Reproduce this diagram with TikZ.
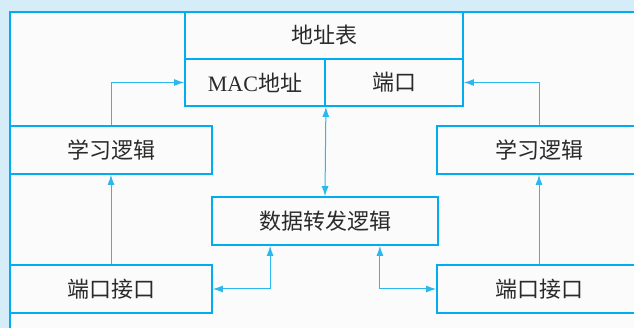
\documentclass[tikz,border=0pt]{standalone}
\usepackage{fontspec}
\setmainfont{Liberation Serif}
\newfontfamily\cjk{Noto Sans CJK SC}
\usetikzlibrary{arrows.meta}
\definecolor{bgblue}{HTML}{D5ECF9}
\definecolor{paper}{HTML}{FBFBFB}
\definecolor{edge}{HTML}{00AEEF}
\definecolor{wire}{HTML}{2BB8EE}
\definecolor{ink}{HTML}{2A2A2A}
\tikzset{
  box/.style={draw=edge, line width=1.8pt, fill=paper, inner sep=0pt, text=ink,
    font=\cjk\fontsize{22}{25}\selectfont},
  wirestyle/.style={draw=wire, line width=1pt, arrows={-Latex[length=10pt,width=7pt]}},
  twoway/.style={draw=wire, line width=1pt, arrows={Latex[length=10pt,width=7pt]-Latex[length=10pt,width=7pt]}}
}
\begin{document}
\begin{tikzpicture}[x=1pt,y=-1pt]
\useasboundingbox (0,0) rectangle (634,328);
\clip (0,0) rectangle (634,328);
\fill[bgblue] (0,0) rectangle (634,328);
\fill[paper] (10,12) rectangle (640,335);
\draw[edge, line width=1.8pt] (10,335) -- (10,12) -- (640,12);
% nodes
\node[box, minimum width=278pt, minimum height=47pt] (addr) at (324,35.5) {地址表};
\node[box, minimum width=140pt, minimum height=47pt] (mac) at (255,82.5) {{\rmfamily MAC}地址};
\node[box, minimum width=138pt, minimum height=47pt] (port) at (394,82.5) {端口};
\node[box, minimum width=202pt, minimum height=48pt] (learnL) at (111,150) {学习逻辑};
\node[box, minimum width=204pt, minimum height=48pt] (learnR) at (539,150) {学习逻辑};
\node[box, minimum width=226pt, minimum height=48pt] (fwd) at (325,221) {数据转发逻辑};
\node[box, minimum width=202pt, minimum height=48pt] (ifL) at (111,289) {端口接口};
\node[box, minimum width=204pt, minimum height=48pt] (ifR) at (539,289) {端口接口};
% connectors
\draw[wirestyle] (learnL.north) |- (mac.west);
\draw[wirestyle] (learnR.north) |- (port.east);
\draw[twoway] (mac.south east) -- (fwd.north);
\draw[wirestyle] (ifL.north) -- (learnL.south);
\draw[wirestyle] (ifR.north) -- (learnR.south);
\coordinate (fwdL) at ([xshift=59pt]fwd.south west);
\coordinate (fwdR) at ([xshift=-59pt]fwd.south east);
\draw[twoway] (ifL.east) -| (fwdL);
\draw[twoway] (fwdR) |- (ifR.west);
\end{tikzpicture}
\end{document}
